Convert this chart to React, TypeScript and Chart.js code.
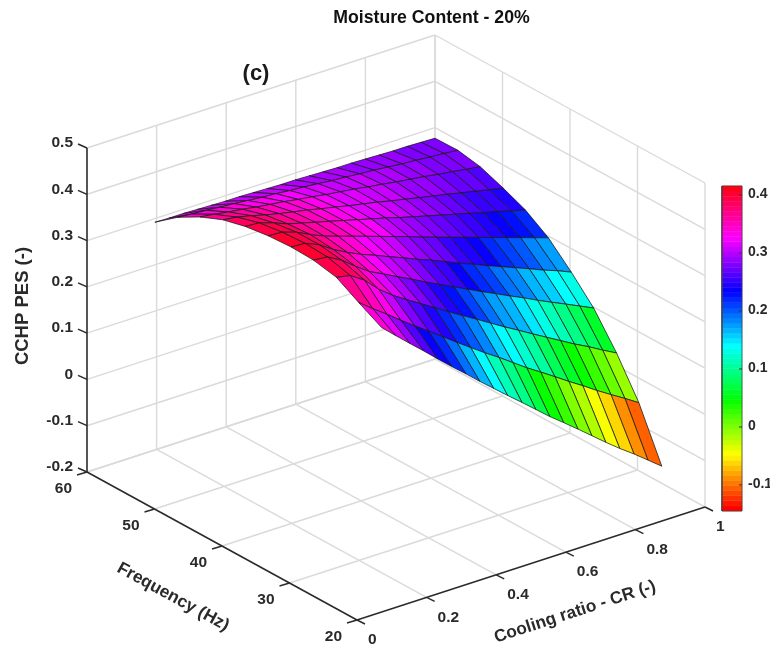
import React, { useEffect, useRef } from "react";
import { Chart, registerables } from "chart.js";

Chart.register(...registerables);

const crValues = [0.195, 0.235, 0.276, 0.316, 0.356, 0.396, 0.437, 0.477, 0.517, 0.557, 0.598, 0.638, 0.678, 0.718, 0.759, 0.799, 0.839, 0.879, 0.92, 0.96, 1];
const freqValues = [60, 56.6, 53.3, 49.9, 46.6, 43.2, 39.8, 36.5, 33.1, 29.8, 26.4];

const pes60 = [0.292, 0.291, 0.291, 0.29, 0.289, 0.288, 0.288, 0.287, 0.286, 0.285, 0.285, 0.284, 0.283, 0.282, 0.282, 0.281, 0.28, 0.279, 0.279, 0.278, 0.277];
const pes57 = [0.33, 0.327, 0.325, 0.322, 0.32, 0.317, 0.314, 0.312, 0.309, 0.307, 0.304, 0.301, 0.299, 0.296, 0.294, 0.291, 0.288, 0.286, 0.283, 0.281, 0.278];
const pes53 = [0.357, 0.353, 0.348, 0.344, 0.339, 0.335, 0.331, 0.326, 0.322, 0.317, 0.313, 0.309, 0.304, 0.3, 0.295, 0.291, 0.287, 0.282, 0.278, 0.273, 0.269];
const pes50 = [0.378, 0.374, 0.367, 0.359, 0.352, 0.346, 0.34, 0.333, 0.327, 0.32, 0.314, 0.308, 0.301, 0.295, 0.288, 0.282, 0.276, 0.269, 0.263, 0.256, 0.25];
const pes47 = [0.39, 0.388, 0.378, 0.366, 0.358, 0.35, 0.342, 0.334, 0.326, 0.318, 0.31, 0.301, 0.293, 0.285, 0.277, 0.269, 0.261, 0.253, 0.245, 0.237, 0.229];
const pes43 = [0.397, 0.395, 0.385, 0.37, 0.357, 0.347, 0.337, 0.327, 0.317, 0.307, 0.297, 0.286, 0.276, 0.266, 0.256, 0.246, 0.236, 0.226, 0.216, 0.206, 0.196];
const pes40 = [0.4, 0.398, 0.385, 0.365, 0.349, 0.335, 0.323, 0.31, 0.298, 0.285, 0.273, 0.26, 0.247, 0.235, 0.222, 0.21, 0.198, 0.186, 0.173, 0.162, 0.149];
const pes37 = [0.398, 0.395, 0.378, 0.355, 0.334, 0.319, 0.303, 0.288, 0.272, 0.257, 0.242, 0.227, 0.212, 0.198, 0.183, 0.169, 0.154, 0.14, 0.126, 0.112, 0.098];
const pes33 = [0.388, 0.382, 0.362, 0.333, 0.31, 0.291, 0.272, 0.254, 0.235, 0.217, 0.199, 0.181, 0.163, 0.146, 0.128, 0.111, 0.094, 0.077, 0.061, 0.044, 0.028];
const pes30 = [0.36, 0.337, 0.315, 0.292, 0.27, 0.249, 0.227, 0.205, 0.184, 0.163, 0.143, 0.122, 0.101, 0.082, 0.062, 0.042, 0.023, 0.003, -0.016, -0.034, -0.053];
const pes26 = [0.333, 0.306, 0.279, 0.253, 0.226, 0.2, 0.174, 0.148, 0.123, 0.098, 0.073, 0.048, 0.023, 0, -0.024, -0.048, -0.072, -0.095, -0.117, -0.14, -0.163];
const pesRows = [pes60, pes57, pes53, pes50, pes47, pes43, pes40, pes37, pes33, pes30, pes26];

const crTicks = [0, 0.2, 0.4, 0.6, 0.8, 1];
const freqTicks = [20, 30, 40, 50, 60];
const zTicks = [-0.2, -0.1, 0, 0.1, 0.2, 0.3, 0.4, 0.5];
const colorTicks = [-0.1, 0, 0.1, 0.2, 0.3, 0.4];
const colorMin = -0.145;
const colorMax = 0.4155;

const TITLE = "Moisture Content - 20%";
const PANEL = "(c)";
const Z_LABEL = "CCHP PES (-)";
const F_LABEL = "Frequency (Hz)";
const CR_LABEL = "Cooling ratio - CR (-)";

const projX = (cr: number, f: number) => 357 + 348 * cr - (270 * (f - 20)) / 40;
const projY = (cr: number, f: number, z: number) => 620 - 113 * cr - (148 * (f - 20)) / 40 - (z + 0.2) * 462.86;
const P = (cr: number, f: number, z: number) => ({ x: projX(cr, f), y: projY(cr, f, z) });

const cbY = (z: number) => 186 + ((colorMax - z) / (colorMax - colorMin)) * 325;

function hsvMap(z: number) {
  let level = Math.floor(((z - colorMin) / (colorMax - colorMin)) * 64);
  level = Math.max(0, Math.min(63, level));
  const h = (level / 64) * 6;
  const k = Math.floor(h);
  const fr = h - k;
  const up = Math.round(255 * fr);
  const dn = 255 - up;
  const tbl = [
    [255, up, 0],
    [dn, 255, 0],
    [0, 255, up],
    [0, dn, 255],
    [up, 0, 255],
    [255, 0, dn],
  ][k % 6];
  return `rgb(${tbl[0]},${tbl[1]},${tbl[2]})`;
}

const seg = (pts: { x: number; y: number }[], color: string, width: number) => ({
  type: "scatter" as const,
  data: pts,
  showLine: true,
  borderColor: color,
  borderWidth: width,
  pointRadius: 0,
  fill: false,
  tension: 0,
});

function buildDatasets() {
  const out: any[] = [];
  const grid = "#dadada";
  const dark = "#2b2b2b";
  const zA = zTicks[0];
  const zB = zTicks[zTicks.length - 1];
  // floor
  for (const c of crTicks.slice(1)) out.push(seg([P(c, 20, zA), P(c, 60, zA)], grid, 1.4));
  for (const f of freqTicks.slice(1)) out.push(seg([P(0, f, zA), P(1, f, zA)], grid, 1.4));
  // back walls
  for (const z of zTicks) {
    out.push(seg([P(0, 60, z), P(1, 60, z)], grid, 1.4));
    out.push(seg([P(1, 60, z), P(1, 20, z)], grid, 1.4));
  }
  for (const c of crTicks.slice(1)) out.push(seg([P(c, 60, zA), P(c, 60, zB)], grid, 1.4));
  for (const f of freqTicks) out.push(seg([P(1, f, zA), P(1, f, zB)], grid, 1.4));
  // surface, far to near
  for (let i = 0; i < pesRows.length - 1; i++) {
    for (let j = crValues.length - 2; j >= 0; j--) {
      const corners = [
        P(crValues[j], freqValues[i], pesRows[i][j]),
        P(crValues[j + 1], freqValues[i], pesRows[i][j + 1]),
        P(crValues[j + 1], freqValues[i + 1], pesRows[i + 1][j + 1]),
        P(crValues[j], freqValues[i + 1], pesRows[i + 1][j]),
      ];
      out.push({
        ...seg([...corners, corners[0]], "rgba(25,25,25,0.85)", 0.9),
        fill: "shape",
        backgroundColor: hsvMap(0.7 * pesRows[i + 1][j] + 0.3 * pesRows[i][j]),
      });
    }
  }
  // axes
  out.push(seg([P(0, 60, zA), P(0, 60, zB)], dark, 1.6));
  out.push(seg([P(0, 60, zA), P(0, 20, zA)], dark, 1.6));
  out.push(seg([P(0, 20, zA), P(1, 20, zA)], dark, 1.6));
  for (const z of zTicks) {
    const a = P(0, 60, z);
    out.push(seg([a, { x: a.x - 9, y: a.y - 4 }], dark, 1.4));
  }
  for (const f of freqTicks) {
    const a = P(0, f, zA);
    out.push(seg([a, { x: a.x - 10, y: a.y + 3 }], dark, 1.4));
  }
  for (const c of crTicks) {
    const a = P(c, 20, zA);
    out.push(seg([a, { x: a.x + 8, y: a.y + 4 }], dark, 1.4));
  }
  // colour bar
  for (let k = 0; k < 64; k++) {
    const lo = colorMin + ((colorMax - colorMin) * k) / 64;
    const hi = colorMin + ((colorMax - colorMin) * (k + 1)) / 64;
    const c = hsvMap((lo + hi) / 2);
    const r = [
      { x: 722, y: cbY(lo) },
      { x: 742, y: cbY(lo) },
      { x: 742, y: cbY(hi) },
      { x: 722, y: cbY(hi) },
      { x: 722, y: cbY(lo) },
    ];
    out.push({ ...seg(r, c, 0.5), fill: "shape", backgroundColor: c });
  }
  out.push(
    seg(
      [
        { x: 722, y: cbY(colorMin) },
        { x: 742, y: cbY(colorMin) },
        { x: 742, y: cbY(colorMax) },
        { x: 722, y: cbY(colorMax) },
        { x: 722, y: cbY(colorMin) },
      ],
      "#444",
      0.8
    )
  );
  for (const t of colorTicks) out.push(seg([{ x: 739, y: cbY(t) }, { x: 742, y: cbY(t) }], "#333", 1));
  out.forEach((d, idx) => (d.order = out.length - idx));
  return out;
}

const textPlugin = {
  id: "labels3d",
  afterDraw(chart: any) {
    const { ctx, scales } = chart;
    const sx = (v: number) => scales.x.getPixelForValue(v);
    const sy = (v: number) => scales.y.getPixelForValue(v);
    const put = (t: string, x: number, y: number, size: number, align: CanvasTextAlign = "center", rot = 0, color = "#2a2a2a") => {
      ctx.save();
      ctx.translate(sx(x), sy(y));
      ctx.rotate((rot * Math.PI) / 180);
      ctx.font = `bold ${size}px "Liberation Sans", Arial, sans-serif`;
      ctx.fillStyle = color;
      ctx.textAlign = align;
      ctx.textBaseline = "middle";
      ctx.fillText(t, 0, 0);
      ctx.restore();
    };
    const zA = zTicks[0];
    put(TITLE, 431.5, 18, 17.7, "center", 0, "#111");
    put(PANEL, 256, 74, 22, "center", 0, "#1a1a1a");
    put(Z_LABEL, 22.5, 306, 18.5, "center", -90);
    put(F_LABEL, 173, 597, 17.3, "center", 28.7);
    put(CR_LABEL, 575, 612, 17.3, "center", -18);
    for (const z of zTicks) {
      const a = P(0, 60, z);
      put(String(z), a.x - 14, a.y - 5, 15.5, "right");
    }
    for (const f of freqTicks) {
      const a = P(0, f, zA);
      put(String(f), a.x - 15, a.y + 17, 15.5, "right");
    }
    for (const c of crTicks) {
      const a = P(c, 20, zA);
      put(String(c), a.x + 11, a.y + 20, 15.5, "left");
    }
    for (const t of colorTicks) put(String(t), 748, cbY(t) - 0.5, 14, "left");
  },
};

export default function App() {
  const ref = useRef<HTMLCanvasElement>(null);
  useEffect(() => {
    const chart = new Chart(ref.current as HTMLCanvasElement, {
      type: "scatter",
      data: { datasets: buildDatasets() },
      options: {
        animation: false,
        responsive: false,
        layout: { padding: 0 },
        scales: {
          x: { type: "linear", min: 0, max: 770, display: false },
          y: { type: "linear", min: 0, max: 650, reverse: true, display: false },
        },
        plugins: {
          legend: { display: false },
          tooltip: { enabled: false },
          title: { display: false },
          filler: { drawTime: "beforeDatasetDraw", propagate: false },
        },
      },
      plugins: [textPlugin],
    } as any);
    return () => chart.destroy();
  }, []);
  return (
    <div style={{ position: "fixed", left: 0, top: 0, width: 770, height: 650, background: "#fff" }}>
      <canvas ref={ref} width={770} height={650} style={{ display: "block" }} />
    </div>
  );
}
